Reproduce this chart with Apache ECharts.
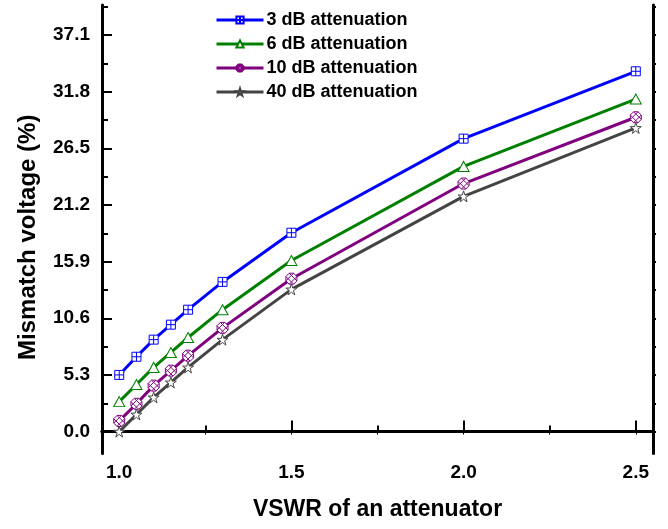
<!DOCTYPE html>
<html>
<head>
<meta charset="utf-8">
<script src="https://cdn.jsdelivr.net/npm/echarts@6/dist/echarts.min.js"></script>
<style>
  html, body { margin: 0; padding: 0; background: #fff; }
  #chart { width: 668px; height: 529px; }
</style>
</head>
<body>
<div id="chart"></div>
<script>
var vswr = [1.0, 1.05, 1.1, 1.15, 1.2, 1.3, 1.5, 2.0, 2.5];
var att3 = [5.3, 7.0, 8.6, 10.0, 11.4, 14.0, 18.6, 27.4, 33.7];
var att6 = [2.8, 4.4, 6.0, 7.4, 8.8, 11.4, 16.0, 24.8, 31.1];
var att10 = [1.0, 2.6, 4.3, 5.7, 7.1, 9.7, 14.3, 23.2, 29.4];
var att40 = [0.0, 1.6, 3.2, 4.6, 6.0, 8.6, 13.3, 22.0, 28.4];

var names = ['3 dB attenuation', '6 dB attenuation', '10 dB attenuation', '40 dB attenuation'];
var xTicks = [1.0, 1.5, 2.0, 2.5];
var xMinor = [1.25, 1.75, 2.25];
var yTicks = [0.0, 5.3, 10.6, 15.9, 21.2, 26.5, 31.8, 37.1];
var yMinor = [2.65, 7.95, 13.25, 18.55, 23.85, 29.15, 34.45, 39.75];

var font = 'Arial, "Liberation Sans", sans-serif';

// marker shapes
var symSquare = 'path://M0,0 L10,0 L10,10 L0,10 Z M5,0 L5,10 M0,5 L10,5';
var symTri = 'path://M5,0 L10,9 L0,9 Z';
var symHatch = 'path://M3,0 L7,0 L10,3 L10,7 L7,10 L3,10 L0,7 L0,3 Z M0,3 L7,10 M3,0 L10,7 M0,7 L7,0 M3,10 L10,3';
var symStar = 'path://M5,0 L6.2,3.6 L10,3.6 L6.9,5.8 L8.1,9.5 L5,7.2 L1.9,9.5 L3.1,5.8 L0,3.6 L3.8,3.6 Z';

function pairs(ys) {
  return vswr.map(function (x, i) { return [x, ys[i]]; });
}

function mk(name, ys, color, symbol, size) {
  return {
    name: name,
    type: 'line',
    xAxisIndex: 0,
    yAxisIndex: 0,
    data: pairs(ys),
    symbol: symbol,
    symbolSize: size,
    showAllSymbol: true,
    lineStyle: { color: color, width: 3 },
    itemStyle: { color: '#fff', borderColor: color, borderWidth: 1 },
    emphasis: { disabled: true },
    z: 3
  };
}

var lbl = { color: '#000', fontFamily: font, fontWeight: 'bold', fontSize: 19 };

var chart = echarts.init(document.getElementById('chart'));
chart.setOption({
  animation: false,
  grid: { left: 102, right: 15, top: 5, bottom: 75.5 },
  legend: {
    orient: 'vertical',
    left: 215,
    top: 11,
    padding: 0,
    itemWidth: 47,
    itemHeight: 9,
    itemGap: 6,
    data: names,
    lineStyle: { width: 3 },
    textStyle: { color: '#000', fontFamily: font, fontWeight: 'bold', fontSize: 18, padding: [0, 0, 0, -2] }
  },
  xAxis: [
    {
      type: 'value', position: 'bottom', min: 0.95, max: 2.55,
      axisLine: { lineStyle: { color: '#000', width: 3 } },
      axisTick: { customValues: xTicks, inside: true, length: 11, lineStyle: { color: '#000', width: 2 } },
      axisLabel: Object.assign({ customValues: xTicks, margin: 10, formatter: function (v) { return v.toFixed(1); } }, lbl),
      splitLine: { show: false },
      name: 'VSWR of an attenuator', nameLocation: 'middle', nameGap: 45,
      nameTextStyle: { color: '#000', fontFamily: font, fontWeight: 'bold', fontSize: 23 }
    },
    {
      type: 'value', position: 'bottom', min: 0.95, max: 2.55,
      axisLine: { show: false },
      axisTick: { customValues: xMinor, inside: true, length: 6, lineStyle: { color: '#000', width: 2 } },
      axisLabel: { show: false }, splitLine: { show: false }
    },
    {
      type: 'value', position: 'top', min: 0.95, max: 2.55,
      axisLine: { lineStyle: { color: '#000', width: 3 } },
      axisTick: { customValues: xTicks.concat(xMinor), inside: true, length: 3, lineStyle: { color: '#000', width: 1 } },
      axisLabel: { show: false }, splitLine: { show: false }
    }
  ],
  yAxis: [
    {
      type: 'value', position: 'left', min: -2.05, max: 39.9,
      axisLine: { show: true, lineStyle: { color: '#000', width: 3 } },
      axisTick: { show: true, customValues: yTicks, inside: true, length: 10, lineStyle: { color: '#000', width: 2 } },
      axisLabel: Object.assign({ customValues: yTicks, margin: 12, formatter: function (v) { return v.toFixed(1); } }, lbl),
      splitLine: { show: false },
      name: 'Mismatch voltage (%)', nameLocation: 'middle', nameGap: 62, nameRotate: 90,
      nameTextStyle: { color: '#000', fontFamily: font, fontWeight: 'bold', fontSize: 24, padding: [0, 16, 0, 0] }
    },
    {
      type: 'value', position: 'left', min: -2.05, max: 39.9,
      axisLine: { show: false },
      axisTick: { show: true, customValues: yMinor, inside: true, length: 6, lineStyle: { color: '#000', width: 2 } },
      axisLabel: { show: false }, splitLine: { show: false }
    },
    {
      type: 'value', position: 'right', min: -2.05, max: 39.9,
      axisLine: { show: true, lineStyle: { color: '#000', width: 3 } },
      axisTick: { show: true, customValues: yTicks.concat(yMinor), inside: false, length: 3, lineStyle: { color: '#000', width: 2 } },
      axisLabel: { show: false }, splitLine: { show: false }
    }
  ],
  series: [
    mk(names[0], att3, '#0000ff', symSquare, 9),
    mk(names[1], att6, '#008000', symTri, [11, 10]),
    mk(names[2], att10, '#800080', symHatch, 11),
    mk(names[3], att40, '#444444', symStar, 11)
  ]
});
</script>
</body>
</html>
